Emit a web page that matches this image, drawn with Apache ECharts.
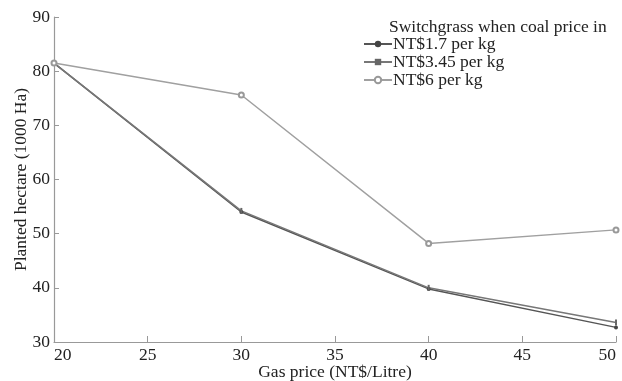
<!DOCTYPE html>
<html><head><meta charset="utf-8">
<script src="https://cdn.jsdelivr.net/npm/echarts@6/dist/echarts.min.js"></script>
<style>html,body{margin:0;padding:0;background:#fff}#c{width:622px;height:381px}</style>
</head><body><div id="c"></div>
<script>
const gasPrice = [20, 30, 40, 50];
const coal17 = [81.5, 54.0, 39.8, 32.7];
const coal345 = [81.5, 54.2, 40.0, 33.6];
const coal6 = [81.5, 75.6, 48.2, 50.7];
const seriesNames = ['NT$1.7 per kg', 'NT$3.45 per kg', 'NT$6 per kg'];
const legendTitle = 'Switchgrass when coal price in';
const xTitle = 'Gas price (NT$/Litre)';
const yTitle = 'Planted hectare (1000 Ha)';

const font = '"Liberation Serif", "DejaVu Serif", serif';
const chart = echarts.init(document.getElementById('c'));
const pair = a => gasPrice.map((x, i) => [x, a[i]]);
chart.setOption({
  animation: false,
  backgroundColor: '#fff',
  title: {
    text: legendTitle, left: 384, top: 13,
    textStyle: {fontFamily: font, fontSize: 17.5, fontWeight: 'normal', color: '#222'}
  },
  legend: {
    orient: 'vertical', left: 358, top: 30, itemGap: 0, itemWidth: 28, itemHeight: 8,
    textStyle: {fontFamily: font, fontSize: 17.5, color: '#222', padding: [0, 0, 0, -4]},
    data: seriesNames
  },
  grid: {left: 54, top: 17, right: 6, bottom: 39, outerBoundsMode: 'none'},
  xAxis: {
    type: 'value', min: 20, max: 50, interval: 5,
    name: xTitle, nameLocation: 'middle', nameGap: 21, nameMoveOverlap: false,
    nameTextStyle: {fontFamily: font, fontSize: 17.5, color: '#222'},
    axisLine: {lineStyle: {color: '#999', width: 1.2}},
    axisTick: {inside: true, length: 6, lineStyle: {color: '#999'}},
    axisLabel: {fontFamily: font, fontSize: 17.5, color: '#222', margin: 4,
                alignMinLabel: 'left', alignMaxLabel: 'right'},
    splitLine: {show: false}
  },
  yAxis: {
    type: 'value', min: 30, max: 90, interval: 10,
    name: yTitle, nameLocation: 'middle', nameGap: 24, nameRotate: 90, nameMoveOverlap: false,
    nameTextStyle: {fontFamily: font, fontSize: 17.5, color: '#222'},
    axisLine: {show: true, lineStyle: {color: '#999', width: 1.2}},
    axisTick: {show: true, inside: true, length: 5, lineStyle: {color: '#999'}},
    axisLabel: {fontFamily: font, fontSize: 17.5, color: '#222', margin: 4},
    splitLine: {show: false}
  },
  series: [
    {name: seriesNames[0], type: 'line', data: pair(coal17), symbol: 'circle', symbolSize: 4,
     itemStyle: {color: '#444'}, lineStyle: {color: '#555', width: 1.5}},
    {name: seriesNames[1], type: 'line', data: pair(coal345), symbol: 'rect', symbolSize: [2, 6],
     itemStyle: {color: '#666'}, lineStyle: {color: '#777', width: 1.5}},
    {name: seriesNames[2], type: 'line', data: pair(coal6), symbol: 'emptyCircle', symbolSize: 5,
     itemStyle: {color: '#999', borderWidth: 1}, lineStyle: {color: '#a0a0a0', width: 1.5}}
  ]
});
</script></body></html>
